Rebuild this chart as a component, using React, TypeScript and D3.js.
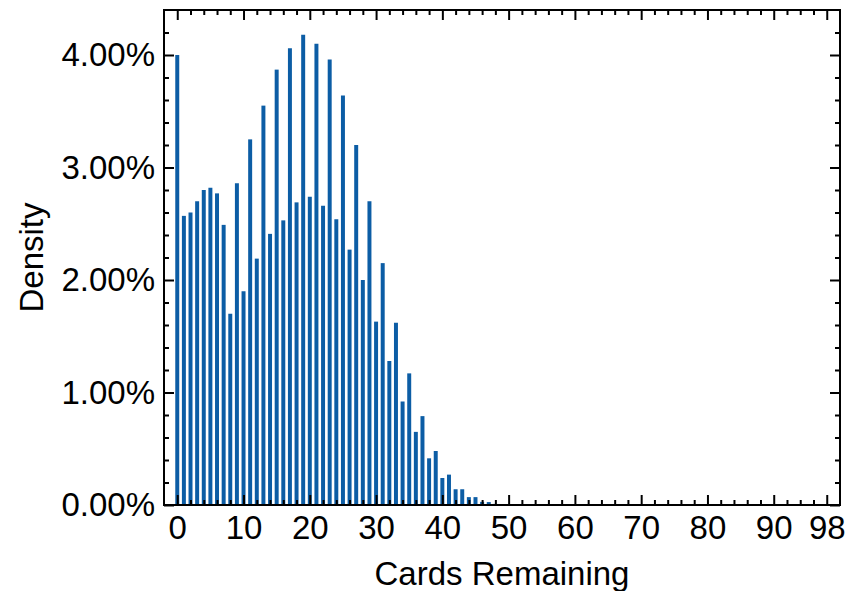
import React, { useEffect, useRef } from "react";
import * as d3 from "d3";

// cards left in the deck at the end of a game
const cardsRemaining = [
  0, 1, 2, 3, 4, 5, 6, 7, 8, 9, 10, 11, 12, 13, 14, 15, 16, 17, 18, 19, 20, 21, 22, 23, 24,
  25, 26, 27, 28, 29, 30, 31, 32, 33, 34, 35, 36, 37, 38, 39, 40, 41, 42, 43, 44, 45, 46, 47,
  48, 49,
];

// share of games (fraction) per card count
const density = [
  0.04, 0.0257, 0.026, 0.027, 0.028, 0.0282, 0.0277, 0.0249, 0.017, 0.0286, 0.019, 0.0325,
  0.0219, 0.0355, 0.0241, 0.0387, 0.0253, 0.0406, 0.0269, 0.0418, 0.0274, 0.041, 0.0266,
  0.0396, 0.0254, 0.0364, 0.0227, 0.032, 0.02, 0.027, 0.0163, 0.0215, 0.0128, 0.0162, 0.0092,
  0.0117, 0.0065, 0.0079, 0.00415, 0.0048, 0.0024, 0.0027, 0.0014, 0.0014, 0.0007, 0.0007,
  0.00028, 0.00026, 0.0001, 0.00005,
];

const xMajorTicks = [0, 10, 20, 30, 40, 50, 60, 70, 80, 90, 98];
const yMajorTicks = [0, 0.01, 0.02, 0.03, 0.04];

const W = 848;
const H = 591;
const FONT = "'Liberation Sans', Arial, Helvetica, sans-serif";
const FS = 33;

export default function App() {
  const ref = useRef<SVGSVGElement>(null);

  useEffect(() => {
    const margin = { left: 164, right: 8, top: 10, bottom: 86 };
    const innerW = W - margin.left - margin.right;
    const innerH = H - margin.top - margin.bottom;

    const x = d3.scaleLinear().domain([-2, 100]).range([0, innerW]);
    const y = d3.scaleLinear().domain([0, 0.044]).range([innerH, 0]);

    const xMinor = d3.range(2, 100, 2).filter((v) => !xMajorTicks.includes(v));
    const yMinor = d3.range(0.002, 0.044, 0.002).filter(
      (v) => !yMajorTicks.some((t) => Math.abs(t - v) < 1e-9)
    );

    const svg = d3.select(ref.current);
    svg.selectAll("*").remove();

    const g = svg.append("g").attr("transform", `translate(${margin.left},${margin.top})`);

    const barW = x(0.6) - x(0);
    g.selectAll("rect.bar")
      .data(cardsRemaining)
      .enter()
      .append("rect")
      .attr("class", "bar")
      .attr("x", (d) => x(d) - barW / 2)
      .attr("width", barW)
      .attr("y", (d, i) => y(density[i]))
      .attr("height", (d, i) => innerH - y(density[i]))
      .attr("fill", "#0C5DA5");

    const styleAxis = (sel: any) => {
      sel.select(".domain").remove();
      sel.selectAll("line").attr("stroke", "#000").attr("stroke-width", 2);
      sel.selectAll("text").attr("font-family", FONT).attr("font-size", FS).attr("fill", "#000");
    };

    // bottom
    g.append("g")
      .attr("transform", `translate(0,${innerH})`)
      .call(d3.axisBottom(x).tickValues(xMajorTicks).tickSize(-10).tickPadding(11).tickFormat(d3.format("d")))
      .call(styleAxis);
    g.append("g")
      .attr("transform", `translate(0,${innerH})`)
      .call(d3.axisBottom(x).tickValues(xMinor).tickSize(-5).tickFormat(() => ""))
      .call(styleAxis);
    // top
    g.append("g")
      .call(d3.axisTop(x).tickValues(xMajorTicks).tickSize(-10).tickFormat(() => ""))
      .call(styleAxis);
    g.append("g")
      .call(d3.axisTop(x).tickValues(xMinor).tickSize(-5).tickFormat(() => ""))
      .call(styleAxis);
    // left
    g.append("g")
      .call(d3.axisLeft(y).tickValues(yMajorTicks).tickSize(-10).tickPadding(9).tickFormat(d3.format(".2%")))
      .call(styleAxis);
    g.append("g")
      .call(d3.axisLeft(y).tickValues(yMinor).tickSize(-5).tickFormat(() => ""))
      .call(styleAxis);
    // right
    g.append("g")
      .attr("transform", `translate(${innerW},0)`)
      .call(d3.axisRight(y).tickValues(yMajorTicks).tickSize(-10).tickFormat(() => ""))
      .call(styleAxis);
    g.append("g")
      .attr("transform", `translate(${innerW},0)`)
      .call(d3.axisRight(y).tickValues(yMinor).tickSize(-5).tickFormat(() => ""))
      .call(styleAxis);

    // frame
    g.append("rect")
      .attr("width", innerW)
      .attr("height", innerH)
      .attr("fill", "none")
      .attr("stroke", "#000")
      .attr("stroke-width", 2);

    g.append("text")
      .attr("x", innerW / 2)
      .attr("y", innerH + 80)
      .attr("text-anchor", "middle")
      .attr("font-family", FONT)
      .attr("font-size", FS)
      .text("Cards Remaining");

    g.append("text")
      .attr("transform", `translate(${43 - margin.left},${innerH / 2}) rotate(-90)`)
      .attr("text-anchor", "middle")
      .attr("font-family", FONT)
      .attr("font-size", FS)
      .text("Density");
  }, []);

  return (
    <svg
      ref={ref}
      width={W}
      height={H}
      style={{ position: "absolute", left: 0, top: 0, background: "#fff" }}
    />
  );
}
